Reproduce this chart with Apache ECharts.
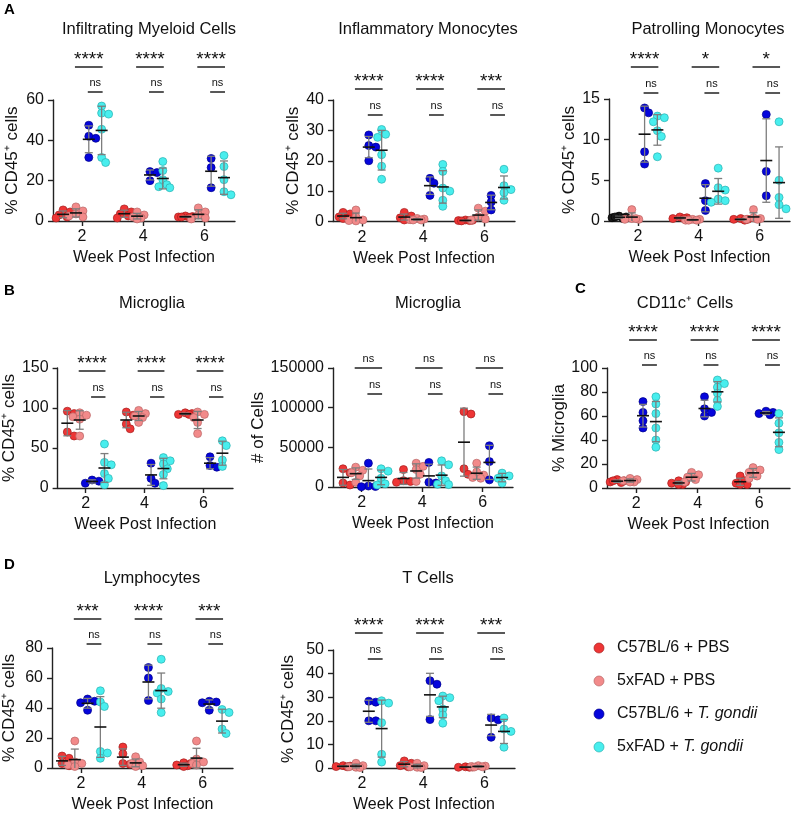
<!DOCTYPE html>
<html><head><meta charset="utf-8">
<script src="https://cdn.jsdelivr.net/npm/echarts@6/dist/echarts.min.js"></script>
<style>html,body{margin:0;padding:0;background:#fff}#c{width:794px;height:814px}</style>
</head><body><div id="c"></div>
<script>
// ---------- DATA ----------
const weeks = [2, 4, 6];
const groupNames = ['C57BL/6 + PBS', '5xFAD + PBS', 'C57BL/6 + ', '5xFAD + '];
const panelTitles = ['Infiltrating Myeloid Cells', 'Inflammatory Monocytes', 'Patrolling Monocytes',
  'Microglia', 'Microglia', 'CD11c\u207A Cells', 'Lymphocytes', 'T Cells'];
const yNames = ['% CD45\u207A cells', '% CD45\u207A cells', '% CD45\u207A cells', '% CD45\u207A cells',
  '# of Cells', '% Microglia', '% CD45\u207A cells', '% CD45\u207A cells'];
const yMaxes = [60, 40, 15, 150, 150000, 100, 80, 50];
const yIntervals = [20, 10, 5, 50, 50000, 20, 20, 10];
const panelLetters = ['A', 'B', 'C', 'D'];

// values per week [wk2, wk4, wk6]
const myeloidWtPbs = [[5.5,4.5,3,2,1.5],[6,4.5,3.5,2.5,1.5],[2.5,2.2,2,1.8,2]];
const myeloidFadPbs = [[7,5,3.5,2.5,2],[4.5,3,2,1.5,1],[6.5,4.5,3,1.5,1]];
const myeloidWtTg = [[47.5,42,41,31.5],[24.5,24,20],[31,26.5,16.5]];
const myeloidFadTg = [[57,53.5,53,45.5,31.5,29],[29.5,25,20.5,18,17,16.5],[32.5,27,20.5,14.5,13]];

const inflWtPbs = [[3,2.5,1.5,1,1],[3,1.8,1.2,0.8,0.5],[0.5,0.4,0.3,0.3,0.2]];
const inflFadPbs = [[3.8,1.5,0.5,0.3,0.2],[1,0.8,0.6,0.5,0.5],[4.4,3.4,1.5,0.8,0.5]];
const inflWtTg = [[28.5,25,24.5,20],[14.2,12.6,8.6],[8.6,6.4,3.8]];
const inflFadTg = [[30.3,28.7,27.7,22,18.2,13.9],[18.8,16.5,11,10,7,5],[17.2,11.8,10.5,9.5,7]];

const patrWtPbs = [[0.6,0.5,0.4,0.3,0.5],[0.5,0.4,0.3,0.3],[0.3,0.2,0.2,0.1]];
const patrFadPbs = [[1.4,0.3,0.2,0.2,0.3],[0.2,0.2,0.1,0.1,0.1],[1.4,0.4,0.3,0.2,0.2]];
const patrWtTg = [[13.9,13.3,8.5,7.0],[4.6,2.5,1.3],[13.1,6.1,3.1]];
const patrFadTg = [[12.9,12.7,12.2,11.1,10.4,7.9],[6.5,4.1,3.8,2.7,2.5,2.3],[12.2,5.0,2.9,2.0,1.5]];

const micPctWtPbs = [[96,93,70,65],[95,91,80,74],[94,93,92,92]];
const micPctFadPbs = [[94,91,89,86,65],[97,93,90,88,82],[95,92,88,82,68]];
const micPctWtTg = [[10,8.5,6],[31,12,6],[39,28,26]];
const micPctFadTg = [[55,32,29,18,12,4],[38,34,30,24,17,3],[59,53,35,27]];

const micNumWtPbs = [[23000,18000,5000,2500],[22000,8000,7000,6000],[95000,92000,23000,16000]];
const micNumFadPbs = [[25000,21000,18000,14000,6000],[30000,26000,22000,16000,7000],[30000,19000,15000,12000,11000]];
const micNumWtTg = [[30000,1200,600,400],[31000,6000,5000],[52000,32000,9000]];
const micNumFadTg = [[23000,20000,11000,4000,2500],[33000,28000,14000,8000,3500,3000],[17500,14000,11000,5000]];

const cd11cWtPbs = [[7,6,5,4.5,6],[6,5,4,3,3],[10,6,4,3,3]];
const cd11cFadPbs = [[8,7,6,5,5],[13,11,9,7,5],[17,15,13,10,8]];
const cd11cWtTg = [[72,63,56,50],[76,66,63,60],[64,63,62,61]];
const cd11cFadTg = [[76,70,62,50,40,34],[90,87,84,79,73,68],[62,54,46,38,32]];

const lymWtPbs = [[8,6.5,3,1.5],[14,9.5,3,2.5],[3.5,3,2,1.5,1]];
const lymFadPbs = [[18,4,3,2,1],[7.5,4,3,1.5,1],[18,6,4,3,2]];
const lymWtTg = [[46,44.5,43.5,38.5],[67,60,45],[44.5,44,43.5,38.5]];
const lymFadTg = [[51.5,44,41,11,10,6.5],[72.5,53,51,50,46,37],[39,37,26,23]];

const tWtPbs = [[1,0.8,0.6,0.5],[3,2,1,0.5],[0.5,0.4,0.3,0.3]];
const tFadPbs = [[2,1,0.5,0.3,0.2],[2,1,0.5,0.3,0.2],[1,0.8,0.6,0.5,0.4]];
const tWtTg = [[28.3,27.9,20,20],[37,35.5,20.5],[21.2,20.4,13]];
const tFadTg = [[28.5,27.5,19.2,5.8,2.5],[30.5,29.8,28.5,25,22.5,19],[21.2,16.5,15.5,8.8]];

// significance labels per week
const sigMyeloid = ['****','****','****'];
const sigInfl = ['****','****','***'];
const sigPatr = ['****','*','*'];
const sigMicPct = ['****','****','****'];
const sigMicNum = ['ns','ns','ns'];
const sigCd11c = ['****','****','****'];
const sigLym = ['***','****','***'];
const sigT = ['****','****','***'];

const panelData = [
  [myeloidWtPbs, myeloidFadPbs, myeloidWtTg, myeloidFadTg],
  [inflWtPbs, inflFadPbs, inflWtTg, inflFadTg],
  [patrWtPbs, patrFadPbs, patrWtTg, patrFadTg],
  [micPctWtPbs, micPctFadPbs, micPctWtTg, micPctFadTg],
  [micNumWtPbs, micNumFadPbs, micNumWtTg, micNumFadTg],
  [cd11cWtPbs, cd11cFadPbs, cd11cWtTg, cd11cFadTg],
  [lymWtPbs, lymFadPbs, lymWtTg, lymFadTg],
  [tWtPbs, tFadPbs, tWtTg, tFadTg]
];
const panelSig = [sigMyeloid, sigInfl, sigPatr, sigMicPct, sigMicNum, sigCd11c, sigLym, sigT];

// ---------- LAYOUT / STYLE ----------
const FONT = "'Liberation Sans', Arial, Helvetica, sans-serif";
const TXT = '#111';
const colors = [
  {fill:'#EE3535', stroke:'#A52020'},
  {fill:'#F28A8A', stroke:'#B86565'},
  {fill:'#0505DC', stroke:'#00008A'},
  {fill:'#48EEEE', stroke:'#2AB0B0'}
];
const groupOffset = [-0.62, -0.2, 0.22, 0.64];
const X_MIN = 1.05, X_MAX = 7.0;
const layout = [
  {left:53, top:100, width:182, height:121, tx:149, ty:29, gap:32, sig:[-33,-8]},
  {left:333, top:100, width:182, height:121.5, tx:428, ty:29, gap:30, sig:[-11,15]},
  {left:609, top:99, width:181, height:122, tx:708, ty:29, gap:26, sig:[-32,-6]},
  {left:52, top:368, width:181, height:120, tx:152, ty:303, gap:35, sig:[3,29]},
  {left:333, top:368, width:180, height:119, tx:428, ty:303, gap:54, sig:[0,26]},
  {left:607, top:368, width:183, height:120, tx:685, ty:303, gap:33, sig:[-28,-3]},
  {left:52, top:648, width:181, height:121, tx:152, ty:578, gap:34, sig:[-29,-4]},
  {left:333, top:650, width:182, height:120, tx:428, ty:578, gap:36, sig:[-17,9]}
];
const letterPos = [[4,10],[4,291],[575,289],[4,565]];

function mean(a){ return a.reduce((s,v)=>s+v,0)/a.length; }
function sd(a){ const m=mean(a); return Math.sqrt(a.reduce((s,v)=>s+(v-m)*(v-m),0)/(a.length-1)); }

// horizontal spreading of overlapping points (pixel based)
function spread(vals, pxY, pxX){
  const placed = [], res = [];
  const cands = [0, 4, -4, 7, -7];
  vals.forEach(v => {
    const py = v*pxY;
    let best = 0, bestD = -1;
    for (const c of cands){
      let dmin = Infinity;
      placed.forEach(p => { dmin = Math.min(dmin, Math.hypot(p.px-c, p.py-py)); });
      if (dmin >= 6){ best = c; bestD = dmin; break; }
      if (dmin > bestD){ bestD = dmin; best = c; }
    }
    placed.push({px:best, py});
    res.push(best/pxX);
  });
  return res;
}

function errRender(params, api){
  const x = api.value(0), m = api.value(1), loRaw = api.value(2), hi = api.value(3);
  const lo = Math.max(loRaw, 0);
  const cm = api.coord([x, m]), cl = api.coord([x, lo]), ch = api.coord([x, hi]);
  const cx = cm[0];
  const gray = {stroke:'#7d7d7d', lineWidth:1.3};
  const kids = [
    {type:'line', shape:{x1:cx, y1:cl[1], x2:cx, y2:ch[1]}, style:gray},
    {type:'line', shape:{x1:cx-4, y1:ch[1], x2:cx+4, y2:ch[1]}, style:gray}
  ];
  if (loRaw > 0) kids.push({type:'line', shape:{x1:cx-4, y1:cl[1], x2:cx+4, y2:cl[1]}, style:gray});
  kids.push({type:'line', shape:{x1:cx-6, y1:cm[1], x2:cx+6, y2:cm[1]}, style:{stroke:'#111', lineWidth:1.6}});
  return {type:'group', children:kids};
}

function makeSig(labels, sigY){
  return function(params, api){
    const w = api.value(0);
    const top = params.coordSys.y;
    const xa = api.coord([w+groupOffset[1], 0])[0] - 1;
    const xb = api.coord([w+groupOffset[3], 0])[0] + 1;
    const xc = api.coord([w+groupOffset[2], 0])[0] - 1;
    const y1 = top + sigY[0], y2 = top + sigY[1];
    const lab = labels[params.dataIndex];
    const isNs = lab === 'ns';
    return {type:'group', children:[
      {type:'line', shape:{x1:xa, y1:y1, x2:xb, y2:y1}, style:{stroke:'#111', lineWidth:1.4}},
      {type:'text', style:{text:lab, x:(xa+xb)/2, y: isNs ? y1-9 : y1-7, align:'center', verticalAlign:'middle',
        fontSize: isNs ? 11 : 19, fontFamily:FONT, fill:TXT}},
      {type:'line', shape:{x1:xc, y1:y2, x2:xb, y2:y2}, style:{stroke:'#111', lineWidth:1.4}},
      {type:'text', style:{text:'ns', x:(xc+xb)/2, y:y2-9, align:'center', verticalAlign:'middle',
        fontSize:11, fontFamily:FONT, fill:TXT}}
    ]};
  };
}

const grids=[], xAxes=[], yAxes=[], series=[], graphics=[];
panelData.forEach((groups, i) => {
  const L = layout[i];
  grids.push({left:L.left, top:L.top, width:L.width, height:L.height});
  xAxes.push({
    gridIndex:i, type:'value', min:X_MIN, max:X_MAX,
    axisLine:{show:true, onZero:false, lineStyle:{color:'#222', width:1.4}},
    axisTick:{show:true, length:5, customValues:weeks, lineStyle:{color:'#222', width:1.4}},
    axisLabel:{customValues:weeks, fontSize:16, color:TXT, fontFamily:FONT, margin:8},
    splitLine:{show:false},
    name:'Week Post Infection', nameLocation:'middle', nameGap:29,
    nameTextStyle:{fontSize:16, color:TXT, fontFamily:FONT}
  });
  yAxes.push({
    gridIndex:i, type:'value', min:0, max:yMaxes[i], interval:yIntervals[i],
    axisLine:{show:true, lineStyle:{color:'#222', width:1.4}},
    axisTick:{show:true, length:5, lineStyle:{color:'#222', width:1.4}},
    axisLabel:{fontSize:16, color:TXT, fontFamily:FONT, margin:9, formatter:v => String(v)},
    splitLine:{show:false},
    name:yNames[i], nameLocation:'middle', nameGap:L.gap,
    nameTextStyle:{fontSize:17, color:TXT, fontFamily:FONT}
  });
  const pxX = L.width/(X_MAX-X_MIN), pxY = L.height/yMaxes[i];
  const eb = [];
  groups.forEach((g, gi) => {
    const pts = [];
    g.forEach((vals, wi) => {
      const offs = spread(vals, pxY, pxX);
      const dark = (i === 2 && gi === 0 && wi === 0);
      vals.forEach((v, k) => {
        const item = {value:[weeks[wi] + groupOffset[gi] + offs[k], v]};
        if (dark) item.itemStyle = {color:'#1a1a1a', borderColor:'#000'};
        pts.push(item);
      });
      const m = mean(vals), s = sd(vals);
      eb.push([weeks[wi] + groupOffset[gi], m, m - s, m + s]);
    });
    series.push({type:'scatter', xAxisIndex:i, yAxisIndex:i, data:pts, symbolSize:8, silent:true, z:2,
      itemStyle:{color:colors[gi].fill, borderColor:colors[gi].stroke, borderWidth:0.7, opacity:1}});
  });
  series.push({type:'custom', xAxisIndex:i, yAxisIndex:i, data:eb, renderItem:errRender, z:3, clip:false, silent:true});
  series.push({type:'custom', xAxisIndex:i, yAxisIndex:i, data:weeks.map(w => [w, 0]),
    renderItem:makeSig(panelSig[i], L.sig), z:4, clip:false, silent:true});
  graphics.push({type:'text', x:L.tx, y:L.ty, style:{text:panelTitles[i], fontSize:16.5, fontFamily:FONT, fill:TXT,
    align:'center', verticalAlign:'middle', textAlign:'center', textVerticalAlign:'middle'}});
});

panelLetters.forEach((t, k) => {
  graphics.push({type:'text', x:letterPos[k][0], y:letterPos[k][1], style:{text:t, fontSize:15, fontWeight:'bold',
    fontFamily:FONT, fill:'#000', align:'left', verticalAlign:'middle', textAlign:'left', textVerticalAlign:'middle'}});
});

// legend
groupNames.forEach((n, k) => {
  const y = 648 + k*33;
  graphics.push({type:'circle', shape:{cx:599, cy:y, r:5}, style:{fill:colors[k].fill, stroke:colors[k].stroke, lineWidth:0.7}});
  const txt = k >= 2 ? '{n|' + n + '}{i|T. gondii}' : '{n|' + n + '}';
  graphics.push({type:'text', x:617, y:y, style:{text:txt, fontFamily:FONT, fontSize:16, fill:TXT,
    align:'left', verticalAlign:'middle', textAlign:'left', textVerticalAlign:'middle',
    rich:{n:{fontSize:16, fontFamily:FONT, fill:TXT}, i:{fontSize:16, fontFamily:FONT, fontStyle:'italic', fill:TXT}}}});
});

const chart = echarts.init(document.getElementById('c'));
chart.setOption({
  animation:false, backgroundColor:'#fff',
  grid:grids, xAxis:xAxes, yAxis:yAxes, series:series, graphic:graphics
});
</script></body></html>
